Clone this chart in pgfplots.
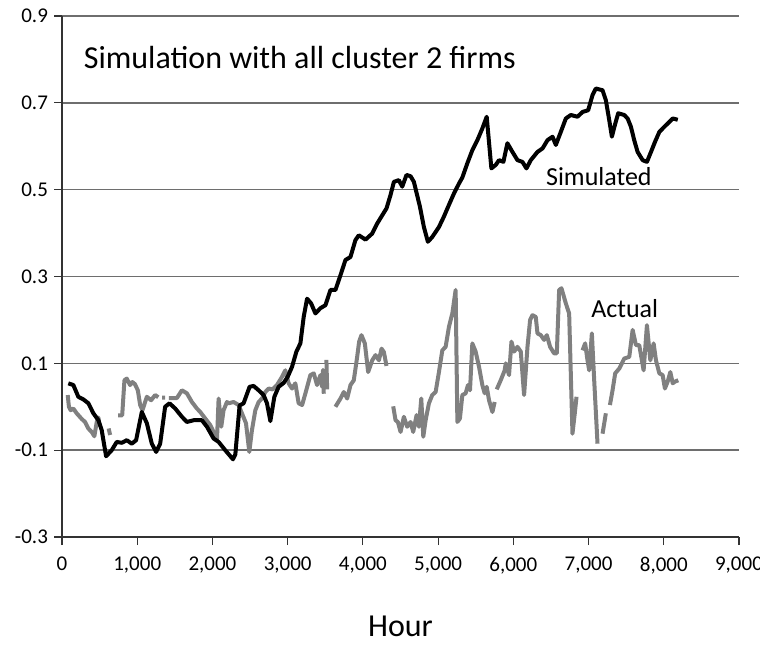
\documentclass[border=0pt]{standalone}
\usepackage{fontspec}
\setmainfont{Carlito}
\usepackage{pgfplots}
\pgfplotsset{compat=1.18}
\definecolor{actgray}{RGB}{128,128,128}
\definecolor{gridc}{RGB}{110,110,110}
\begin{document}
\begin{tikzpicture}
\begin{axis}[
  name=ax,
  scale only axis,
  width=338.5pt, height=260.5pt,
  xmin=0, xmax=9000, ymin=-0.3, ymax=0.9,
  xtick={0,1000,...,9000},
  ytick={-0.3,-0.1,0.1,0.3,0.5,0.7,0.9},
  axis lines=left,
  axis line style={-, black!80, line width=0.6pt},
  ymajorgrids,
  grid style={gridc, line width=0.7pt},
  tick align=outside,
  major tick length=4pt,
  tick style={black!80, line width=0.6pt},
  /pgf/number format/assume math mode=true,
  xticklabel shift=2.5pt,
  xticklabel style={font=\fontsize{10.5}{12}\selectfont, /pgf/number format/1000 sep={,}},
  yticklabel style={font=\fontsize{10.5}{12}\selectfont, anchor=east, xshift=0.5pt, /pgf/number format/fixed, /pgf/number format/fixed zerofill, /pgf/number format/precision=1},
  scaled y ticks=false,
  scaled x ticks=false,
  xlabel={Hour},
  xlabel style={font=\fontsize{16}{19}\selectfont, yshift=-14pt},
  unbounded coords=jump,
  clip=false,
]
\addplot[actgray, line width=2pt, line join=round] coordinates {
(76,0.027)(92,0.000)(115,-0.008)(150,-0.004)(195,-0.015)(262,-0.028)(306,-0.035)(350,-0.050)(395,-0.058)(430,-0.068)(462,-0.035)(484,-0.025)(500,-0.045)
(560,nan)
(620,-0.050)(640,-0.065)
(700,nan)
(745,-0.020)(800,-0.020)(830,0.061)(861,0.065)(905,0.050)(936,0.057)(970,0.052)(1008,0.038)(1039,0.004)(1069,-0.008)(1128,0.023)(1185,0.015)(1238,0.027)(1280,0.022)
(1305,nan)
(1330,0.021)(1371,0.021)
(1395,nan)
(1420,0.020)(1470,0.020)(1527,0.020)(1594,0.038)(1660,0.031)(1727,0.011)(1793,-0.004)(1838,-0.012)(1904,-0.027)(1971,-0.042)(2015,-0.058)(2060,-0.077)(2082,0.019)(2117,-0.046)(2148,-0.008)(2193,0.011)(2215,0.008)(2281,0.011)(2348,0.004)(2392,-0.015)(2446,-0.038)(2490,-0.104)(2525,-0.054)(2570,-0.008)(2614,0.011)(2659,0.019)(2703,0.034)(2748,0.042)(2800,0.040)(2858,0.050)(2925,0.069)(2969,0.084)(3013,0.054)(3058,0.042)(3102,0.054)(3146,0.008)(3192,0.004)(3236,0.031)(3302,0.073)(3347,0.077)(3391,0.050)(3436,0.073)(3458,0.046)(3470,0.085)(3480,0.030)
(3498,nan)
(3515,0.108)(3525,0.040)
(3580,nan)
(3635,0.000)(3702,0.019)(3746,0.034)(3791,0.019)(3835,0.050)(3879,0.061)(3924,0.115)(3950,0.150)(3981,0.165)(4026,0.146)(4070,0.080)(4124,0.107)(4168,0.119)(4213,0.107)(4248,0.134)(4279,0.126)(4314,0.094)
(4360,nan)
(4403,0.001)(4434,-0.031)(4465,-0.035)(4501,-0.058)(4545,-0.023)(4589,-0.046)(4634,-0.035)(4669,-0.058)(4714,-0.019)(4745,-0.046)(4776,0.019)(4803,-0.069)(4834,-0.031)(4878,0.008)(4922,0.027)(4967,0.034)(5011,0.080)(5056,0.130)(5100,0.138)(5144,0.184)(5189,0.215)(5233,0.269)(5256,-0.035)(5290,-0.027)(5322,0.027)(5366,0.031)(5397,0.050)(5424,0.038)(5455,0.146)(5499,0.127)(5544,0.092)(5588,0.050)(5619,0.031)(5646,0.046)(5677,0.015)(5722,-0.012)(5752,0.011)
(5765,nan)
(5779,0.040)(5832,0.061)(5885,0.084)(5899,0.100)(5943,0.073)(5975,0.150)(6010,0.127)(6055,0.138)(6099,0.127)(6143,0.027)(6188,0.138)(6223,0.200)(6254,0.211)(6298,0.207)(6321,0.169)(6365,0.165)(6409,0.154)(6445,0.165)(6489,0.138)(6542,0.123)(6578,0.123)(6609,0.269)(6640,0.273)(6698,0.238)(6742,0.215)(6786,-0.062)(6817,-0.015)(6840,0.023)
(6880,nan)
(6920,0.130)(6955,0.146)(6986,0.107)(7008,0.084)(7044,0.169)(7075,0.061)(7119,-0.085)
(7150,nan)
(7186,-0.062)(7230,-0.015)
(7257,nan)
(7284,0.004)(7319,0.038)(7354,0.077)(7408,0.088)(7474,0.111)(7541,0.115)(7586,0.177)(7630,0.142)(7674,0.142)(7732,0.084)(7776,0.188)(7821,0.107)(7865,0.146)(7896,0.107)(7941,0.077)(7985,0.073)(8015,0.042)(8052,0.058)(8087,0.080)(8119,0.054)(8149,0.058)(8193,0.061)
};
\addplot[black, line width=2pt, line join=round] coordinates {
(84,0.054)(151,0.050)(217,0.023)(284,0.017)(351,0.008)(417,-0.015)(484,-0.031)(528,-0.054)(586,-0.114)(661,-0.100)(728,-0.081)(795,-0.083)(861,-0.077)(928,-0.085)(985,-0.077)(1061,-0.012)(1128,-0.038)(1194,-0.085)(1252,-0.104)(1305,-0.085)(1371,0.000)(1429,0.008)(1505,-0.004)(1594,-0.023)(1660,-0.035)(1749,-0.031)(1860,-0.031)(1927,-0.046)(2015,-0.073)(2082,-0.081)(2170,-0.100)(2273,-0.121)(2304,-0.110)(2361,0.003)(2414,0.008)(2494,0.046)(2547,0.048)(2614,0.038)(2680,0.027)(2725,0.008)(2770,-0.033)(2823,0.023)(2880,0.046)(2947,0.055)(3000,0.069)(3058,0.092)(3116,0.127)(3169,0.146)(3213,0.207)(3258,0.249)(3312,0.238)(3369,0.215)(3435,0.227)(3502,0.234)(3569,0.269)(3635,0.269)(3702,0.303)(3768,0.338)(3835,0.345)(3901,0.384)(3946,0.395)(4035,0.385)(4124,0.399)(4190,0.422)(4257,0.441)(4314,0.457)(4368,0.488)(4412,0.518)(4478,0.522)(4523,0.507)(4580,0.534)(4634,0.531)(4678,0.518)(4758,0.461)(4811,0.414)(4864,0.380)(4922,0.391)(5011,0.414)(5077,0.438)(5144,0.465)(5210,0.491)(5277,0.514)(5322,0.528)(5389,0.561)(5455,0.591)(5522,0.614)(5588,0.641)(5646,0.668)(5708,0.549)(5766,0.557)(5810,0.568)(5868,0.564)(5921,0.607)(5988,0.587)(6055,0.568)(6121,0.564)(6174,0.549)(6232,0.568)(6321,0.587)(6388,0.595)(6454,0.614)(6521,0.622)(6565,0.603)(6631,0.633)(6698,0.664)(6764,0.672)(6853,0.668)(6920,0.679)(6995,0.683)(7053,0.718)(7097,0.733)(7186,0.729)(7230,0.706)(7275,0.660)(7310,0.622)(7350,0.649)(7394,0.676)(7474,0.672)(7519,0.664)(7563,0.645)(7607,0.614)(7652,0.587)(7719,0.568)(7776,0.564)(7830,0.587)(7883,0.610)(7941,0.633)(8008,0.645)(8074,0.656)(8119,0.664)(8186,0.661)
};
\node[anchor=base west, inner sep=0pt, font=\fontsize{16}{19}\selectfont] at (axis cs:285,0.778) {Simulation with all cluster 2 firms};
\node[font=\fontsize{13}{16}\selectfont] at (axis cs:7137,0.531) {Simulated};
\node[font=\fontsize{13}{16}\selectfont] at (axis cs:7480,0.227) {Actual};
\end{axis}
\pgfresetboundingbox
\path ([xshift=-31pt,yshift=-54.5pt]ax.south west) rectangle ([xshift=10.5pt,yshift=8pt]ax.north east);
\end{tikzpicture}
\end{document}
